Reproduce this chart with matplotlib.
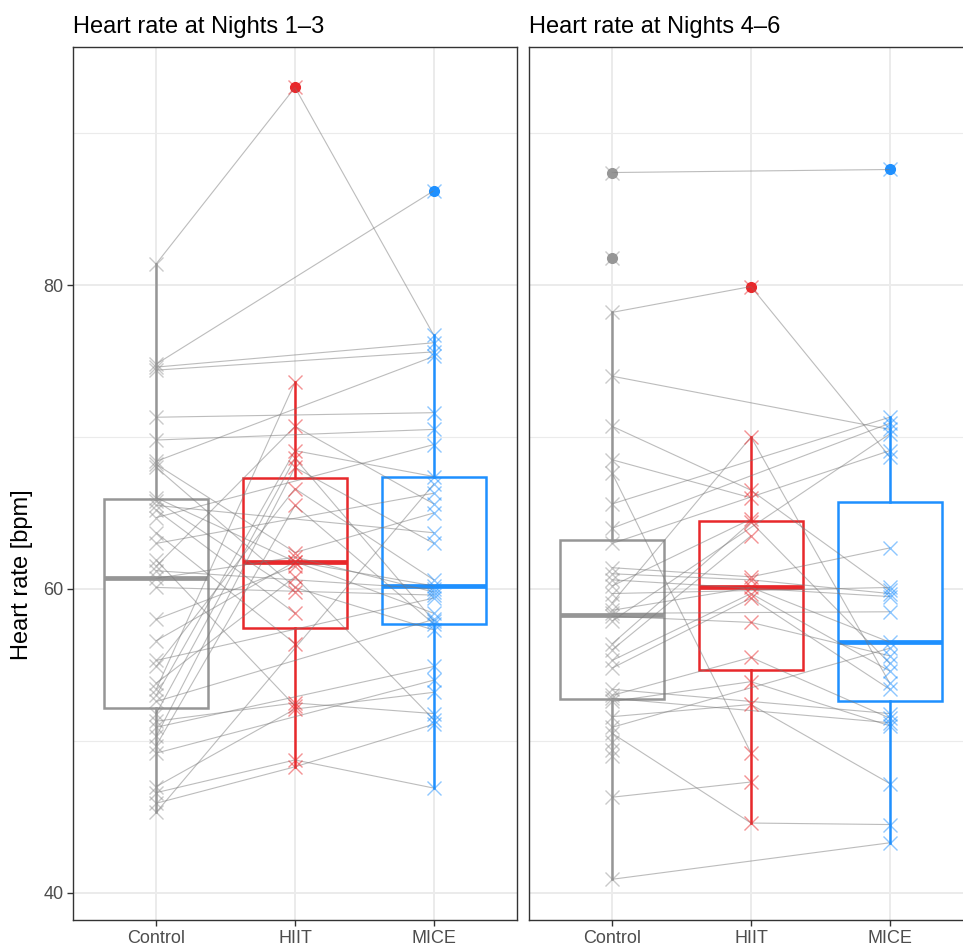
import numpy as np
import matplotlib.pyplot as plt

plt.rcParams['font.family'] = ['Liberation Sans', 'DejaVu Sans']

groups = ["Control", "HIIT", "MICE"]
titles = ["Heart rate at Nights 1\u20133", "Heart rate at Nights 4\u20136"]
colors = ["#969696", "#E8282B", "#1E90FF"]

nan = np.nan

# nights 1-3, one entry per participant (nan = no recording)
ctrl_n13 = [81.4, 74.8, 74.6, 74.4, 71.3, 69.8, 68.4, 68.2, 68.0, 66.0,
            65.8, 65.5, 65.2, 64.7, 63.7, 63.0, 61.9, 61.5, 61.2, 60.7,
            60.1, 58.0, 56.6, 55.3, 54.9, 53.8, 53.4, 53.0, 52.6, 51.8,
            51.3, 50.9, 50.3, 49.7, 49.2, 47.0, 46.6, 45.9, 45.3]
hiit_n13 = [93.0, nan, nan, nan, nan, nan, nan, 62.4, 60.1, 61.8,
            59.8, nan, 58.4, nan, 56.4, nan, 52.3, 70.7, nan, 62.1,
            nan, 61.5, 61.8, nan, 66.6, 60.8, 73.6, 69.1, nan, 68.6,
            52.5, nan, 68.0, 65.5, nan, 52.1, 48.75, 48.3, nan]
mice_n13 = [76.7, 86.2, 76.2, 75.6, 71.6, 70.5, 75.3, 65.0, 57.3, 60.2,
            nan, 63.7, nan, 69.5, nan, 66.3, nan, 65.6, 60.0, 59.8,
            59.6, nan, 58.4, 59.4, 60.6, 51.4, nan, 67.4, 58.0, 57.9,
            51.8, 54.9, 63.0, 57.7, 54.0, 53.2, 46.9, 51.1, 66.9]

# nights 4-6
ctrl_n46 = [87.4, 81.8, 78.2, 74.0, 70.7, 68.5, 67.6, 65.6, 64.0, 63.0,
            61.4, 61.0, 60.6, 60.2, 59.7, 59.1, 58.6, 58.4, 58.2, 57.9,
            56.4, 56.0, 55.3, 54.8, 53.4, 53.0, 52.8, 52.6, 51.6, 50.9,
            50.5, 49.9, 49.4, 49.0, 46.3, 40.9]
hiit_n46 = [nan, nan, 79.9, nan, 66.5, 66.0, 49.2, nan, nan, nan,
            60.8, 60.6, nan, 64.6, nan, 70.0, 60.1, nan, 57.8, nan,
            64.4, 63.5, 59.7, 59.4, nan, 55.5, nan, 53.9, 52.4, nan,
            44.6, nan, nan, nan, 47.3, nan]
mice_n46 = [87.6, nan, 68.7, 70.5, 59.9, nan, nan, 71.3, 70.9, 69.1,
            62.7, 59.7, 59.5, nan, 60.1, 53.8, 56.5, 58.5, 55.6, 70.2,
            55.1, nan, 54.6, 53.4, 51.8, 51.5, 51.2, 51.0, 47.2, 56.1,
            44.5, nan, nan, nan, nan, 43.3]

panels = [(ctrl_n13, hiit_n13, mice_n13), (ctrl_n46, hiit_n46, mice_n46)]

fig = plt.figure(figsize=(9.63, 9.47), dpi=100)
W, H = 963, 947
ax1 = fig.add_axes([73 / W, 1 - 920 / H, 444 / W, 873 / H])
ax2 = fig.add_axes([529 / W, 1 - 920 / H, 444 / W, 873 / H])
axes = [ax1, ax2]
xpos = [1, 2, 3]

for ax, data, title in zip(axes, panels, titles):
    cols = [np.array(d, dtype=float) for d in data]

    # boxplots, one per group
    for x, vals, c in zip(xpos, cols, colors):
        v = vals[~np.isnan(vals)]
        ax.boxplot([v], positions=[x], widths=0.75, whis=1.5, patch_artist=True,
                   showcaps=False, zorder=2,
                   boxprops=dict(facecolor="white", edgecolor=c, linewidth=1.8),
                   whiskerprops=dict(color=c, linewidth=1.8),
                   medianprops=dict(color=c, linewidth=3.4),
                   flierprops=dict(marker="o", markerfacecolor=c, markeredgecolor=c,
                                   markersize=7))

    # participant lines
    stacked = np.column_stack(cols)
    for row in stacked:
        ok = ~np.isnan(row)
        ax.plot(np.array(xpos)[ok], row[ok], color="#7A7A7A", alpha=0.5,
                linewidth=0.8, zorder=3)

    # individual points
    for x, vals, c in zip(xpos, cols, colors):
        v = vals[~np.isnan(vals)]
        ax.plot(np.full(len(v), x), v, linestyle="none", marker="x", color=c,
                alpha=0.5, markersize=10, markeredgewidth=1.0, zorder=4)

    ax.set_xlim(0.4, 3.6)
    ax.set_ylim(38.22, 95.66)
    ax.set_xticks(xpos)
    ax.set_xticklabels(groups)
    ax.set_yticks([40, 60, 80])
    ax.set_yticks([50, 70, 90], minor=True)
    ax.grid(which="major", color="#EBEBEB", linewidth=1.4)
    ax.grid(which="minor", axis="y", color="#EBEBEB", linewidth=0.8)
    ax.set_axisbelow(True)
    for s in ax.spines.values():
        s.set_color("#333333")
        s.set_linewidth(1.0)
    ax.tick_params(which="major", length=4, width=1.0, color="#333333",
                   labelcolor="#4D4D4D", labelsize=13, pad=3)
    ax.tick_params(which="minor", length=0)
    ax.set_title(title, loc="left", fontsize=17, pad=10, color="black")

ax1.set_ylabel("Heart rate [bpm]", fontsize=17)
ax1.yaxis.set_label_coords(-0.09, 0.395)
ax2.tick_params(axis="y", left=False, labelleft=False)

fig.savefig("out.png", dpi=100)
